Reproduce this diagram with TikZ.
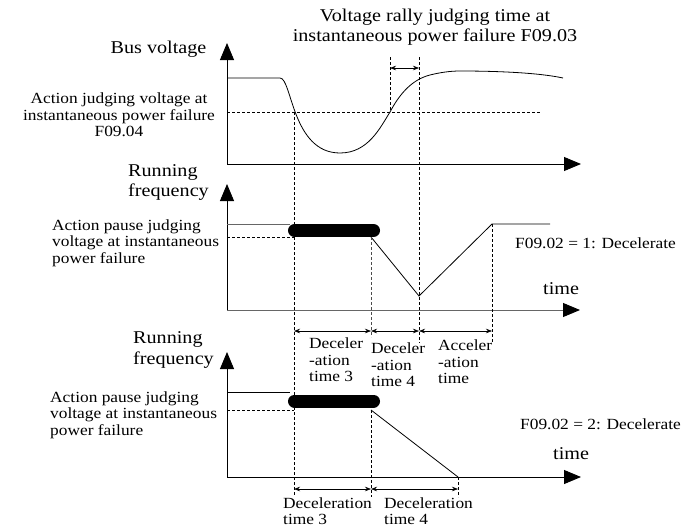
\documentclass[tikz,border=0pt]{standalone}
\usepackage{fontspec}
\setmainfont{Liberation Serif}[FakeStretch=1.12]
\usetikzlibrary{arrows.meta}
\begin{document}
\begin{tikzpicture}[x=1pt,y=-1pt,
  axis/.style={line width=0.9pt,-{Triangle[length=17pt,width=14pt]}},
  grayaxis/.style={line width=0.9pt,draw=black!60,-{Triangle[length=17pt,width=14pt,color=black]}},
  dim/.style={line width=0.6pt,{Stealth[length=6pt,width=4.5pt]}-{Stealth[length=6pt,width=4.5pt]}},
  guide/.style={line width=0.6pt,dash pattern=on 3pt off 2pt},
  curve/.style={line width=0.8pt},
  bar/.style={line width=13pt,line cap=round},
  big/.style={font=\fontsize{18}{20.5}\selectfont,inner sep=0pt},
  small/.style={font=\fontsize{15.5}{16.5}\selectfont,inner sep=0pt}]
\useasboundingbox (0,0) rectangle (687,530);

% ---------- panel 1: bus voltage ----------
\coordinate (O1) at (227,164);
\coordinate (Y1) at (227,43);
\coordinate (X1) at (581,164);
\draw[axis] (O1) -- (Y1);
\draw[axis] (O1) -- (X1);
\coordinate (V0) at (227,78);
\coordinate (V1) at (280,78);
\coordinate (Vmin) at (340,153);
\coordinate (Vup) at (390,112);
\coordinate (V2) at (430,75);
\coordinate (V3) at (460,71);
\coordinate (V4) at (563,78);
\draw[curve] (V0) -- (V1) .. controls (292,78) and (292,153) .. (Vmin)
  .. controls (368,153) and (380,128) .. (Vup)
  .. controls (398,97) and (410,80) .. (V2)
  .. controls (440,72.5) and (450,71) .. (V3)
  .. controls (500,71) and (540,73) .. (V4);
\coordinate (Hl) at (227,112);
\coordinate (Hr) at (540,112);
\draw[guide] (Hl) -- (Hr);
\coordinate (Ddown) at (294,112);
\coordinate (Dend) at (294,495);
\draw[guide] (Ddown) -- (Dend);
\coordinate (Ra) at (390,57);
\coordinate (Rb) at (419,57);
\draw[guide] (Ra) -- (Vup);
\coordinate (RbEnd) at (419,343);
\draw[guide] (Rb) -- (RbEnd);
\coordinate (Ta) at (390,68);
\coordinate (Tb) at (419,68);
\draw[dim] (Ta) -- (Tb);

\node[big,align=center] (title) at (435,27) {Voltage rally judging time at\\instantaneous power failure F09.03};
\node[big] (bus) at (158.5,49) {Bus voltage};
\node[small,align=center] (act1) at (119,115) {Action judging voltage at\\instantaneous power failure\\F09.04};

% ---------- panel 2 ----------
\coordinate (O2) at (227,310);
\coordinate (Y2) at (227,184);
\coordinate (X2) at (580,310);
\draw[axis] (O2) -- (Y2);
\draw[grayaxis] (O2) -- (X2);
\coordinate (T2l) at (227,224);
\coordinate (T2r) at (290,224);
\draw[line width=0.8pt,black!60] (T2l) -- (T2r);
\coordinate (B2a) at (294.5,230.5);
\coordinate (B2b) at (373.5,230.5);
\draw[bar] (B2a) -- (B2b);
\coordinate (P2l) at (227,237);
\coordinate (P2r) at (294,237);
\draw[guide] (P2l) -- (P2r);
\coordinate (S2) at (371,237);
\coordinate (M2) at (419,296);
\coordinate (A2) at (492,224);
\coordinate (E2) at (550,224);
\draw[curve] (S2) -- (M2) -- (A2) -- (E2);
\coordinate (S2d) at (371,337);
\draw[guide,black!70] (S2) -- (S2d);
\coordinate (A2d) at (492,343);
\draw[guide] (A2) -- (A2d);
\coordinate (d2a) at (294,331);
\coordinate (d2b) at (371,331);
\coordinate (d2c) at (419,331);
\coordinate (d2d) at (492,331);
\draw[dim] (d2a) -- (d2b);
\draw[dim] (d2b) -- (d2c);
\draw[dim] (d2c) -- (d2d);

\node[big,align=left,anchor=west] (run2) at (128,182.5) {Running\\frequency};
\node[small,align=left,anchor=west] (pause2) at (52,243) {Action pause judging\\voltage at instantaneous\\power failure};
\node[small,anchor=west] (mode1) at (515,243) {F09.02 = 1: Decelerate};
\node[big,anchor=west] (time2) at (543,289) {time};
\node[small,align=left,anchor=west] (lab3) at (309,360) {Deceler\\-ation\\time 3};
\node[small,align=left,anchor=west] (lab4) at (371,365) {Deceler\\-ation\\time 4};
\node[small,align=left,anchor=west] (labA) at (438,362) {Acceler\\-ation\\time};

% ---------- panel 3 ----------
\coordinate (O3) at (227,477);
\coordinate (Y3) at (227,352);
\coordinate (X3) at (581,477);
\draw[axis] (O3) -- (Y3);
\draw[axis] (O3) -- (X3);
\coordinate (T3l) at (227,392);
\coordinate (T3r) at (290,392);
\draw[line width=0.8pt] (T3l) -- (T3r);
\coordinate (B3a) at (294.5,401);
\coordinate (B3b) at (373.5,401);
\draw[bar] (B3a) -- (B3b);
\coordinate (P3l) at (227,410);
\coordinate (P3r) at (294,410);
\draw[guide] (P3l) -- (P3r);
\coordinate (S3) at (371,410);
\coordinate (Z3) at (458,477);
\draw[curve] (S3) -- (Z3);
\coordinate (S3d) at (371,497);
\draw[guide] (S3) -- (S3d);
\coordinate (Z3d) at (458,497);
\draw[guide] (Z3) -- (Z3d);
\coordinate (d3a) at (294,489);
\coordinate (d3b) at (371,489);
\coordinate (d3c) at (458,489);
\draw[dim] (d3a) -- (d3b);
\draw[dim] (d3b) -- (d3c);

\node[big,align=left,anchor=west] (run3) at (133,350) {Running\\frequency};
\node[small,align=left,anchor=west] (pause3) at (50,415) {Action pause judging\\voltage at instantaneous\\power failure};
\node[small,anchor=west] (mode2) at (520,424) {F09.02 = 2: Decelerate};
\node[big,anchor=west] (time3) at (553,454) {time};
\node[small,align=left,anchor=south west] (lab3b) at (283,525) {Deceleration\\time 3};
\node[small,align=left,anchor=south west] (lab4b) at (384,525) {Deceleration\\time 4};
\end{tikzpicture}
\end{document}
